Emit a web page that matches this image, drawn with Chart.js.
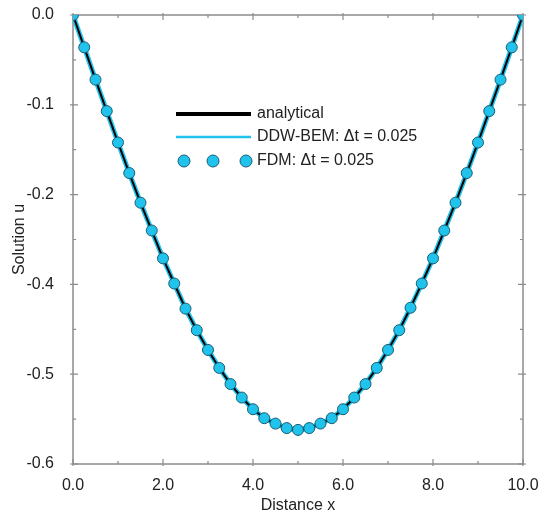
<!DOCTYPE html>
<html>
<head>
<meta charset="utf-8">
<script src="https://cdn.jsdelivr.net/npm/chart.js@4.4.0/dist/chart.umd.min.js"></script>
<style>
  html, body { margin: 0; padding: 0; background: #fff; }
</style>
</head>
<body>
<canvas id="solChart" width="552" height="524"></canvas>
<script>
// node positions along x
const xDistance = [0, 0.25, 0.5, 0.75, 1, 1.25, 1.5, 1.75, 2, 2.25, 2.5, 2.75, 3, 3.25, 3.5, 3.75,
  4, 4.25, 4.5, 4.75, 5, 5.25, 5.5, 5.75, 6, 6.25, 6.5, 6.75, 7, 7.25, 7.5, 7.75,
  8, 8.25, 8.5, 8.75, 9, 9.25, 9.5, 9.75, 10];

// values in plot units (the printed axis skips -0.3, see yTickLabels)
const uAnalytical = [0, -0.036, -0.072, -0.107, -0.142, -0.176, -0.209, -0.240, -0.271, -0.299, -0.327,
  -0.351, -0.373, -0.393, -0.411, -0.426, -0.439, -0.449, -0.455, -0.460, -0.462, -0.460, -0.455,
  -0.449, -0.439, -0.426, -0.411, -0.393, -0.373, -0.351, -0.326, -0.299, -0.271, -0.240, -0.209,
  -0.176, -0.142, -0.107, -0.072, -0.036, 0];
const uDdwBem = [0, -0.036, -0.072, -0.107, -0.142, -0.176, -0.209, -0.240, -0.271, -0.299, -0.327,
  -0.351, -0.373, -0.393, -0.411, -0.426, -0.439, -0.449, -0.455, -0.460, -0.462, -0.460, -0.455,
  -0.449, -0.439, -0.426, -0.411, -0.393, -0.373, -0.351, -0.326, -0.299, -0.271, -0.240, -0.209,
  -0.176, -0.142, -0.107, -0.072, -0.036, 0];
const uFdm = [0, -0.036, -0.072, -0.107, -0.142, -0.176, -0.209, -0.240, -0.271, -0.299, -0.327,
  -0.351, -0.373, -0.393, -0.411, -0.426, -0.439, -0.449, -0.455, -0.460, -0.462, -0.460, -0.455,
  -0.449, -0.439, -0.426, -0.411, -0.393, -0.373, -0.351, -0.326, -0.299, -0.271, -0.240, -0.209,
  -0.176, -0.142, -0.107, -0.072, -0.036, 0];

// tick labels as printed, top to bottom
const yTickLabels = ['0.0', '-0.1', '-0.2', '-0.4', '-0.5', '-0.6'];
const seriesNames = ['analytical', 'DDW-BEM: \u0394t = 0.025', 'FDM: \u0394t = 0.025'];

const cyan = '#1fc3ec';
const axisGray = '#8c8c8c';

Chart.defaults.font.family = '"Liberation Sans", Arial, sans-serif';
Chart.defaults.font.size = 16;
Chart.defaults.color = '#222';

const toXY = ys => xDistance.map((x, i) => ({ x: x, y: ys[i] }));

// box frame with ticks on all four sides
const frameTicks = {
  id: 'frameTicks',
  beforeDatasetsDraw(chart) {
    const { ctx, chartArea: a, scales } = chart;
    ctx.save();
    ctx.strokeStyle = axisGray;
    ctx.lineWidth = 1.5;
    ctx.strokeRect(a.left, a.top, a.right - a.left, a.bottom - a.top);
    ctx.lineWidth = 1.2;
    ctx.beginPath();
    for (let v = 0; v <= 10; v++) {
      const px = scales.x.getPixelForValue(v);
      const major = v % 2 === 0;
      const inL = major ? 5 : 3, outL = major ? 2 : 0;
      ctx.moveTo(px, a.bottom + outL); ctx.lineTo(px, a.bottom - inL);
      ctx.moveTo(px, a.top - outL); ctx.lineTo(px, a.top + inL);
    }
    for (let k = 0; k <= 10; k++) {
      const py = scales.y.getPixelForValue(-k * 0.05);
      const major = k % 2 === 0;
      const inL = major ? 5 : 3, outL = major ? 3 : 0;
      ctx.moveTo(a.left - outL, py); ctx.lineTo(a.left + inL, py);
      ctx.moveTo(a.right + outL, py); ctx.lineTo(a.right - inL, py);
    }
    ctx.stroke();
    ctx.restore();
  }
};

// legend placed inside the plot, FDM sample drawn as three markers
const boxLegend = {
  id: 'boxLegend',
  afterDatasetsDraw(chart, args, opts) {
    const { ctx } = chart;
    const ds = chart.data.datasets;
    const x0 = opts.left, x1 = opts.left + opts.sample;
    ctx.save();
    ctx.font = '16px "Liberation Sans", Arial, sans-serif';
    ctx.textBaseline = 'middle';
    ds.forEach((d, i) => {
      const y = opts.top + opts.rows[i];
      if (d.showLine === false) {
        [x0 + 8, x0 + 37, x0 + 70].forEach(cx => {
          ctx.beginPath();
          ctx.arc(cx, y, 6, 0, Math.PI * 2);
          ctx.fillStyle = d.pointBackgroundColor;
          ctx.fill();
          ctx.lineWidth = 1;
          ctx.strokeStyle = d.pointBorderColor;
          ctx.stroke();
        });
      } else {
        ctx.beginPath();
        ctx.moveTo(x0, y); ctx.lineTo(x1, y);
        ctx.lineWidth = i === 0 ? 4 : 2.5;
        ctx.strokeStyle = d.borderColor;
        ctx.stroke();
      }
      ctx.fillStyle = '#222';
      ctx.fillText(d.label, x1 + 6, y);
    });
    ctx.restore();
  }
};

new Chart(document.getElementById('solChart').getContext('2d'), {
  type: 'line',
  data: {
    datasets: [{
      label: seriesNames[0],
      data: toXY(uAnalytical),
      borderColor: '#000',
      borderWidth: 2,
      pointRadius: 0,
      order: 2
    },
    {
      label: seriesNames[1],
      data: toXY(uDdwBem),
      borderColor: cyan,
      borderWidth: 5,
      pointRadius: 0,
      order: 3
    },
    {
      label: seriesNames[2],
      data: toXY(uFdm),
      showLine: false,
      pointRadius: 5.5,
      pointBorderWidth: 1,
      pointBackgroundColor: cyan,
      pointBorderColor: '#1b5c72',
      order: 1
    }]
  },
  options: {
    responsive: false,
    animation: false,
    devicePixelRatio: 1,
    layout: { padding: { top: 15, right: 29, left: 0, bottom: 0 } },
    plugins: {
      legend: { display: false },
      tooltip: { enabled: false },
      boxLegend: { left: 176, top: 114, rows: [0, 23, 47], sample: 75 }
    },
    scales: {
      x: {
        type: 'linear',
        min: 0,
        max: 10,
        ticks: { stepSize: 2, padding: 4, callback: v => v.toFixed(1) },
        grid: { display: false },
        border: { display: false },
        title: { display: true, text: 'Distance x', padding: { top: 0, bottom: 9 } },
        afterFit: s => { s.height = 60; s.paddingLeft = 0; s.paddingRight = 0; }
      },
      y: {
        min: -0.5,
        max: 0,
        ticks: { stepSize: 0.1, padding: 11, callback: v => yTickLabels[Math.round(-v * 10)] },
        grid: { display: false },
        border: { display: false },
        title: { display: true, text: 'Solution u', padding: { top: 10, bottom: 0 } },
        afterFit: s => { s.width = 73; s.paddingTop = 0; s.paddingBottom = 0; }
      }
    }
  },
  plugins: [frameTicks, boxLegend]
});
</script>
</body>
</html>
